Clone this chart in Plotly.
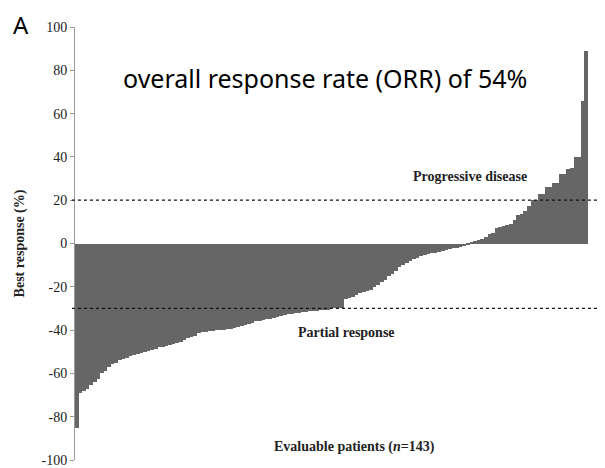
import plotly.graph_objects as go

# Best response (%) for 143 evaluable patients, sorted ascending
best_response = [
    -85, -69, -68, -67, -65.5, -64, -62.5, -60, -59, -57,
    -55.5, -55, -54, -53.5, -53, -52, -51.5, -51, -50.5, -50,
    -49.5, -49, -48.5, -48, -48, -47.5, -47, -46.5, -46, -45.5,
    -44.5, -43.5, -43, -42.5, -41.5, -41, -41, -40.5, -40.5, -40,
    -40, -40, -39.5, -39.5, -39, -38.5, -38, -37.5, -37, -36.5,
    -36, -36, -35.5, -35, -35, -34.5, -34, -33.5, -33, -32.5,
    -32.5, -32, -32, -31.5, -31.5, -31, -31, -31, -30.5, -30.5,
    -30.5, -30, -30, -30, -30, -25.5, -25, -24.5, -24, -23,
    -22.5, -22, -21.5, -20, -19, -18, -17, -15, -14, -12.5,
    -11, -10, -9, -8, -7, -6.5, -6, -5.5, -5, -4.5,
    -4.5, -4, -3.5, -3, -2.5, -2, -2, -1.5, -1, -0.5,
    0.5, 1, 1.5, 2, 3, 4.5, 5, 7, 7.5, 8,
    8.5, 9, 11, 13, 13.5, 15, 17.5, 20, 20, 23,
    23, 26, 26, 28, 28, 32, 32, 34.5, 35, 40,
    40, 66, 89,
]
patients = list(range(1, len(best_response) + 1))

y_ticks = [100, 80, 60, 40, 20, 0, -20, -40, -60, -80, -100]
y_tick_labels = ["100", "80", "60", "40", "20", "0", "-20", "-40", "-60", "-80", "-100"]

pd_threshold = 20
pr_threshold = -30

serif = "Liberation Serif, Times New Roman, serif"

fig = go.Figure()
fig.add_trace(go.Bar(
    x=patients,
    y=best_response,
    marker=dict(color="#666666", line=dict(width=0)),
    width=1.0,
    showlegend=False,
))

for yv in (pd_threshold, pr_threshold):
    fig.add_shape(type="line", xref="paper", yref="y",
                  x0=-0.006, x1=1.035, y0=yv, y1=yv,
                  line=dict(color="#111111", width=1.2, dash="dot"))

fig.add_annotation(xref="paper", yref="y", x=0.770, y=31, xanchor="center",
                   text="<b>Progressive disease</b>", showarrow=False,
                   font=dict(family=serif, size=14, color="#222222"))
fig.add_annotation(xref="paper", yref="y", x=0.530, y=-41.3, xanchor="center",
                   text="<b>Partial response</b>", showarrow=False,
                   font=dict(family=serif, size=14, color="#222222"))
fig.add_annotation(xref="paper", yref="y", x=0.544, y=-94, xanchor="center",
                   text="<b>Evaluable patients (<i>n</i>=143)</b>", showarrow=False,
                   font=dict(family=serif, size=14, color="#222222"))
fig.add_annotation(xref="paper", yref="y", x=0.487, y=76.5, xanchor="center",
                   text="overall response rate (ORR) of 54%", showarrow=False,
                   font=dict(family="Noto Sans, sans-serif", size=25, color="#000000"))
fig.add_annotation(xref="paper", yref="paper", x=-0.105, y=1.0439,
                   xanchor="center", yanchor="top", borderpad=0, borderwidth=0,
                   text="A", showarrow=False,
                   font=dict(family="Noto Sans, sans-serif", size=24, color="#000000"))

fig.update_layout(
    width=597, height=460,
    margin=dict(l=67, r=17, t=19, b=8, autoexpand=False),
    paper_bgcolor="white", plot_bgcolor="white",
    bargap=0,
    xaxis=dict(range=[0.5, 143.5], visible=False, automargin=False),
    yaxis=dict(
        range=[-100, 100],
        automargin=False,
        tickmode="array", tickvals=y_ticks, ticktext=y_tick_labels,
        showgrid=False, zeroline=False,
        showline=True, linecolor="#9a9a9a", linewidth=1,
        ticks="outside", ticklen=4, tickcolor="#9a9a9a",
        tickfont=dict(family=serif, size=14, color="#222222"),
        title=dict(text="<b>Best response (%)</b>",
                   font=dict(family=serif, size=14, color="#222222"),
                   standoff=13),
    ),
)

fig.write_html("out.html")
